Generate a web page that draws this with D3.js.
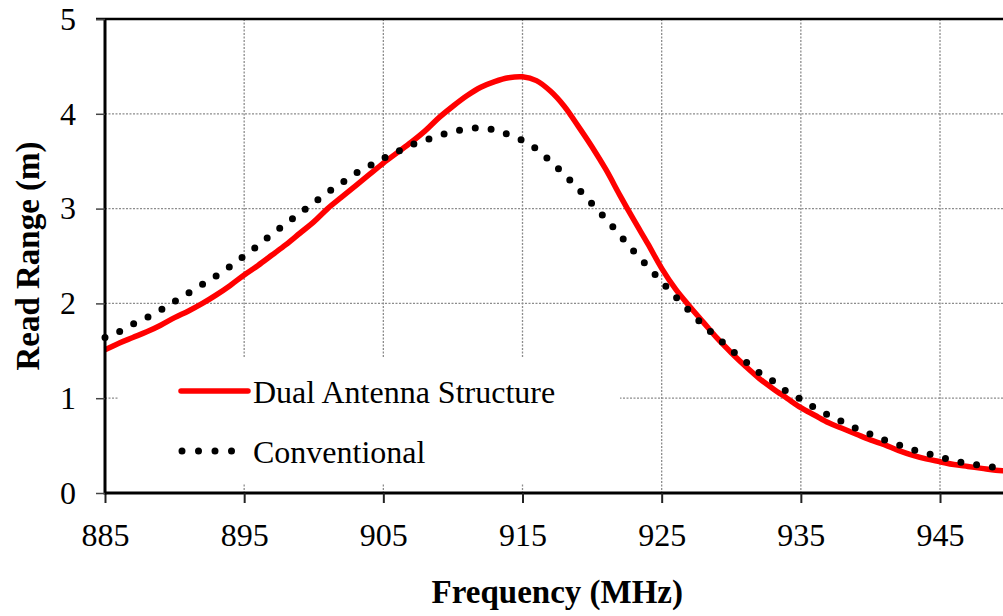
<!DOCTYPE html>
<html>
<head>
<meta charset="utf-8">
<script src="https://cdn.jsdelivr.net/npm/d3@7"></script>
<style>
  body { margin: 0; background: #fff; }
  text { font-family: "Liberation Serif", "Times New Roman", serif; }
</style>
</head>
<body>
<div id="canvas"></div>
<script>
"use strict"

// DATA

let freq = [885, 886, 887, 888, 889, 890, 891, 892, 893, 894,
    895, 896, 897, 898, 899, 900, 901, 902, 903, 904,
    905, 906, 907, 908, 909, 910, 911, 912, 913, 914,
    915, 916, 917, 918, 919, 920, 921, 922, 923, 924,
    925, 926, 927, 928, 929, 930, 931, 932, 933, 934,
    935, 936, 937, 938, 939, 940, 941, 942, 943, 944,
    945, 946, 947, 948, 949, 950];

let dualRange = [1.51, 1.58, 1.64, 1.70, 1.77, 1.85, 1.92, 2.00, 2.09, 2.19,
    2.30, 2.40, 2.51, 2.62, 2.74, 2.86, 3.00, 3.12, 3.24, 3.36,
    3.48, 3.59, 3.70, 3.82, 3.96, 4.08, 4.19, 4.28, 4.34, 4.38,
    4.39, 4.35, 4.24, 4.08, 3.87, 3.65, 3.41, 3.14, 2.88, 2.63,
    2.37, 2.15, 1.97, 1.80, 1.63, 1.48, 1.34, 1.21, 1.10, 1.00,
    0.90, 0.82, 0.74, 0.68, 0.62, 0.56, 0.51, 0.45, 0.40, 0.36,
    0.33, 0.30, 0.28, 0.26, 0.24, 0.23];

let convRange = [1.64, 1.70, 1.78, 1.85, 1.93, 2.02, 2.11, 2.20, 2.29, 2.39,
    2.50, 2.61, 2.73, 2.84, 2.95, 3.06, 3.17, 3.27, 3.37, 3.45,
    3.53, 3.60, 3.67, 3.72, 3.77, 3.81, 3.84, 3.85, 3.83, 3.78,
    3.72, 3.63, 3.50, 3.36, 3.21, 3.05, 2.89, 2.72, 2.55, 2.39,
    2.23, 2.07, 1.92, 1.77, 1.64, 1.51, 1.39, 1.27, 1.18, 1.07,
    0.99, 0.90, 0.82, 0.75, 0.68, 0.62, 0.56, 0.51, 0.46, 0.42,
    0.38, 0.34, 0.31, 0.29, 0.27, 0.25];

let xTicks = [885, 895, 905, 915, 925, 935, 945];
let yTicks = [0, 1, 2, 3, 4, 5];
let seriesNames = ["Dual Antenna Structure", "Conventional"];

// CANVAS

let svgWidth = 1003;
let svgHeight = 616;

let plotLeft = 105;
let plotTop = 19;
let plotBottom = 493;
let plotRight = 1009.6; // chart is cut off at the right edge of the picture

let svg = d3.select("#canvas")
    .append("svg")
    .attr("width", svgWidth)
    .attr("height", svgHeight);

// SCALES

let xScale = d3.scaleLinear()
    .domain([885, 950])
    .range([plotLeft, plotRight]);

let yScale = d3.scaleLinear()
    .domain([0, 5])
    .range([plotBottom, plotTop]);

// GRIDLINES (dotted grey)

svg.append("g")
    .selectAll("line")
    .data(xTicks.slice(1))
    .join("line")
    .attr("x1", d => xScale(d))
    .attr("x2", d => xScale(d))
    .attr("y1", plotTop)
    .attr("y2", plotBottom)
    .attr("stroke", "#8c8c8c")
    .attr("stroke-width", 1.3)
    .attr("stroke-dasharray", "2 1.5");

svg.append("g")
    .selectAll("line")
    .data(yTicks.slice(1, 5))
    .join("line")
    .attr("x1", plotLeft)
    .attr("x2", svgWidth)
    .attr("y1", d => yScale(d))
    .attr("y2", d => yScale(d))
    .attr("stroke", "#8c8c8c")
    .attr("stroke-width", 1.3)
    .attr("stroke-dasharray", "2 1.5");

// top border line
svg.append("line")
    .attr("x1", 96)
    .attr("x2", svgWidth)
    .attr("y1", yScale(5))
    .attr("y2", yScale(5))
    .attr("stroke", "black")
    .attr("stroke-width", 2.5);

// LEGEND BOX (white, hides the grid behind it)

svg.append("rect")
    .attr("x", 118)
    .attr("y", 357)
    .attr("width", 502)
    .attr("height", 126)
    .attr("fill", "white");

// LINES

let line = d3.line()
    .x(d => xScale(d[0]))
    .y(d => yScale(d[1]))
    .curve(d3.curveCatmullRom.alpha(0.5));

let dualPoints = freq.map((f, i) => [f, dualRange[i]]);
let convPoints = freq.map((f, i) => [f, convRange[i]]);

svg.append("path")
    .datum(dualPoints)
    .attr("fill", "none")
    .attr("stroke", "#ff0000")
    .attr("stroke-width", 5.5)
    .attr("stroke-linejoin", "round")
    .attr("d", line);

svg.append("path")
    .datum(convPoints)
    .attr("fill", "none")
    .attr("stroke", "black")
    .attr("stroke-width", 7)
    .attr("stroke-linecap", "round")
    .attr("stroke-dasharray", "0 15.9")
    .attr("d", line);

// AXES

let xAxis = d3.axisBottom(xScale)
    .tickValues(xTicks)
    .tickSize(10)
    .tickPadding(20)
    .tickFormat(d3.format("d"));

let yAxis = d3.axisLeft(yScale)
    .tickValues(yTicks)
    .tickSize(9)
    .tickPadding(20)
    .tickFormat(d3.format("d"));

let gx = svg.append("g")
    .attr("transform", "translate(0," + plotBottom + ")")
    .call(xAxis);

let gy = svg.append("g")
    .attr("transform", "translate(" + plotLeft + ",0)")
    .call(yAxis);

gx.select(".domain")
    .attr("d", "M" + plotLeft + ",0H" + svgWidth)
    .attr("stroke", "black")
    .attr("stroke-width", 3);

gy.select(".domain")
    .attr("d", "M0," + (plotBottom + 1.5) + "V" + plotTop)
    .attr("stroke", "black")
    .attr("stroke-width", 3);

gx.selectAll(".tick line").attr("stroke", "#222").attr("stroke-width", 2);
gy.selectAll(".tick line").attr("stroke", "#444").attr("stroke-width", 1.5);

gx.selectAll(".tick text")
    .style("font-family", "Liberation Serif")
    .style("font-size", "32px")
    .attr("fill", "black");

gy.selectAll(".tick text")
    .style("font-family", "Liberation Serif")
    .style("font-size", "32px")
    .attr("fill", "black");

// AXIS TITLES

svg.append("text")
    .attr("x", (plotLeft + plotRight) / 2)
    .attr("y", 603)
    .attr("text-anchor", "middle")
    .style("font-size", "33px")
    .style("font-weight", "bold")
    .text("Frequency (MHz)");

svg.append("text")
    .attr("transform", "translate(39," + (plotTop + plotBottom) / 2 + ") rotate(-90)")
    .attr("text-anchor", "middle")
    .style("font-size", "33px")
    .style("font-weight", "bold")
    .text("Read Range (m)");

// LEGEND ENTRIES

svg.append("line")
    .attr("x1", 181)
    .attr("x2", 248)
    .attr("y1", 391)
    .attr("y2", 391)
    .attr("stroke", "#ff0000")
    .attr("stroke-width", 5.5)
    .attr("stroke-linecap", "round");

svg.append("line")
    .attr("x1", 182)
    .attr("x2", 232)
    .attr("y1", 451)
    .attr("y2", 451)
    .attr("stroke", "black")
    .attr("stroke-width", 7)
    .attr("stroke-linecap", "round")
    .attr("stroke-dasharray", "0 16.5");

svg.append("text")
    .attr("x", 253)
    .attr("y", 403)
    .style("font-size", "32px")
    .text(seriesNames[0]);

svg.append("text")
    .attr("x", 253)
    .attr("y", 463)
    .style("font-size", "32px")
    .text(seriesNames[1]);
</script>
</body>
</html>
